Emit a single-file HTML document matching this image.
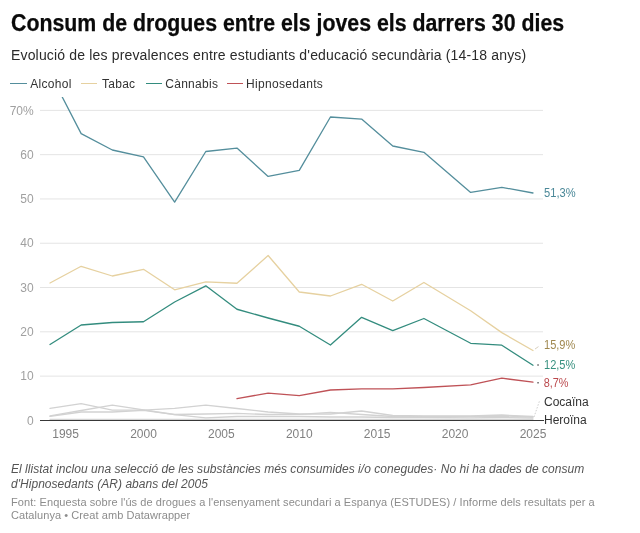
<!DOCTYPE html>
<html lang="ca"><head><meta charset="utf-8"><title>Consum de drogues entre els joves els darrers 30 dies</title>
<style>
html,body{margin:0;padding:0;background:#fff;}
body{width:640px;height:533px;position:relative;overflow:hidden;font-family:"Liberation Sans",Arial,sans-serif;}
.t{position:absolute;white-space:nowrap;left:11px;}
h1{margin:0;font-size:23px;font-weight:700;color:#0a0a0a;top:10.3px;-webkit-text-stroke:0.25px #0a0a0a;line-height:26px;left:11px;transform:scaleX(0.9265);transform-origin:0 0;}
.sub{font-size:14px;color:#2b2b2b;top:45.8px;line-height:18px;letter-spacing:0.165px;}
.legend{position:absolute;top:77px;left:0;font-size:12px;color:#333;white-space:nowrap;line-height:14px;}
.legend span{position:absolute;top:0;letter-spacing:0.3px;}
.legend i{position:absolute;top:6.2px;height:1.2px;}
.chart{position:absolute;left:0;top:0;}
.yl{font-size:12px;fill:#a0a0a0;text-anchor:end;font-family:"Liberation Sans",Arial,sans-serif;}
.xl{font-size:12px;fill:#808080;text-anchor:middle;font-family:"Liberation Sans",Arial,sans-serif;}
.el{font-size:12px;font-family:"Liberation Sans",Arial,sans-serif;}
.notes{font-size:12px;font-style:italic;color:#555;top:462px;letter-spacing:0.035px;line-height:14.5px;}
.foot{font-size:11px;color:#8c8c8c;top:495.9px;letter-spacing:0.07px;line-height:13.2px;}
</style></head><body>
<svg class="chart" width="640" height="533" viewBox="0 0 640 533">
<defs><clipPath id="clip"><rect x="0" y="97" width="640" height="330"/></clipPath></defs>
<line x1="40" x2="543" y1="110.37" y2="110.37" stroke="#e4e4e4" stroke-width="1"/>
<text x="33.7" y="114.6" class="yl">70%</text>
<line x1="40" x2="543" y1="154.66" y2="154.66" stroke="#e4e4e4" stroke-width="1"/>
<text x="33.7" y="158.9" class="yl">60</text>
<line x1="40" x2="543" y1="198.95" y2="198.95" stroke="#e4e4e4" stroke-width="1"/>
<text x="33.7" y="203.1" class="yl">50</text>
<line x1="40" x2="543" y1="243.24" y2="243.24" stroke="#e4e4e4" stroke-width="1"/>
<text x="33.7" y="247.4" class="yl">40</text>
<line x1="40" x2="543" y1="287.53" y2="287.53" stroke="#e4e4e4" stroke-width="1"/>
<text x="33.7" y="291.7" class="yl">30</text>
<line x1="40" x2="543" y1="331.82" y2="331.82" stroke="#e4e4e4" stroke-width="1"/>
<text x="33.7" y="336.0" class="yl">20</text>
<line x1="40" x2="543" y1="376.11" y2="376.11" stroke="#e4e4e4" stroke-width="1"/>
<text x="33.7" y="380.3" class="yl">10</text>
<text x="33.7" y="424.6" class="yl">0</text>
<g clip-path="url(#clip)" fill="none" stroke-linejoin="round" stroke-linecap="round">
<polyline points="50.00,419.30 81.16,419.30 112.32,419.30 143.48,419.30 174.64,419.30 205.80,419.30 236.96,419.30 268.12,419.30 299.28,419.30 330.44,419.30 361.60,419.30 392.76,419.30 423.92,419.30 470.66,419.30 501.82,419.30 532.98,419.30" stroke="#d2d2d2" stroke-width="1.3"/>
<polyline points="50.00,416.40 81.16,412.00 112.32,412.00 143.48,410.40 174.64,414.60 205.80,417.80 236.96,416.50 268.12,416.50 299.28,416.50 330.44,417.00 361.60,417.00 392.76,417.50 423.92,417.50 470.66,417.80 501.82,417.50 532.98,418.00" stroke="#d2d2d2" stroke-width="1.3"/>
<polyline points="50.00,415.80 81.16,410.50 112.32,405.10 143.48,409.80 174.64,414.50 205.80,414.00 236.96,413.40 268.12,414.50 299.28,414.30 330.44,412.30 361.60,414.50 392.76,416.50 423.92,416.50 470.66,416.50 501.82,416.00 532.98,417.00" stroke="#d2d2d2" stroke-width="1.3"/>
<polyline points="50.00,408.30 81.16,403.60 112.32,410.20 143.48,410.20 174.64,408.30 205.80,405.10 236.96,408.50 268.12,412.00 299.28,414.00 330.44,414.00 361.60,411.00 392.76,415.50 423.92,416.00 470.66,416.00 501.82,415.00 532.98,416.50" stroke="#d2d2d2" stroke-width="1.3"/>
<polyline points="236.96,398.70 268.12,393.10 299.28,395.60 330.44,390.00 361.60,388.80 392.76,388.90 423.92,387.50 470.66,384.80 501.82,378.20 532.98,382.20" stroke="#bf5257" stroke-width="1.3"/>
<polyline points="50.00,344.50 81.16,325.00 112.32,322.50 143.48,321.75 174.64,302.00 205.80,285.80 236.96,309.25 268.12,318.00 299.28,326.25 330.44,345.00 361.60,317.30 392.76,330.70 423.92,318.50 470.66,343.30 501.82,345.20 532.98,365.20" stroke="#338c7e" stroke-width="1.3"/>
<polyline points="50.00,283.00 81.16,266.30 112.32,276.00 143.48,269.30 174.64,289.80 205.80,281.90 236.96,283.25 268.12,255.50 299.28,292.00 330.44,296.00 361.60,284.30 392.76,301.00 423.92,282.50 470.66,310.70 501.82,332.60 532.98,350.50" stroke="#e6d1a0" stroke-width="1.3"/>
<polyline points="50.00,73.30 81.16,133.60 112.32,150.00 143.48,156.80 174.64,202.10 205.80,151.50 236.96,148.10 268.12,176.40 299.28,170.40 330.44,117.00 361.60,119.10 392.76,146.00 423.92,152.30 470.66,192.40 501.82,187.30 532.98,193.00" stroke="#548e9c" stroke-width="1.3"/>
</g>
<line x1="40" x2="544" y1="420.45" y2="420.45" stroke="#383838" stroke-width="1.1"/>
<text x="65.58" y="438" class="xl">1995</text>
<text x="143.48" y="438" class="xl">2000</text>
<text x="221.38" y="438" class="xl">2005</text>
<text x="299.28" y="438" class="xl">2010</text>
<text x="377.18" y="438" class="xl">2015</text>
<text x="455.08" y="438" class="xl">2020</text>
<text x="532.98" y="438" class="xl">2025</text>
<g fill="none">
<line x1="535" y1="349" x2="538.5" y2="346.6" stroke="#d8d0c0" stroke-width="1"/>
<line x1="537.3" y1="365" x2="538.8" y2="365" stroke="#666" stroke-width="1.4"/>
<line x1="537.3" y1="382.8" x2="538.8" y2="382.8" stroke="#666" stroke-width="1.4"/>
<line x1="534" y1="417" x2="539.5" y2="401" stroke="#cfcfcf" stroke-width="1" stroke-dasharray="1.5 1.5"/>
</g>
<text x="544" y="197.2" class="el" fill="#4a8898" textLength="31.6" lengthAdjust="spacingAndGlyphs">51,3%</text>
<text x="544" y="349" class="el" fill="#a08850" textLength="31.3" lengthAdjust="spacingAndGlyphs">15,9%</text>
<text x="544" y="368.6" class="el" fill="#36907f" textLength="31.3" lengthAdjust="spacingAndGlyphs">12,5%</text>
<text x="543.7" y="387.4" class="el" fill="#bb4a4e" textLength="24.8" lengthAdjust="spacingAndGlyphs">8,7%</text>
<text x="544" y="405.5" class="el" fill="#333">Cocaïna</text>
<text x="544" y="424" class="el" fill="#333">Heroïna</text>
</svg>
<h1 class="t">Consum de drogues entre els joves els darrers 30 dies</h1>
<div class="t sub">Evolució de les prevalences entre estudiants d'educació secundària (14-18 anys)</div>
<div class="legend"><i style="left:10.3px;width:16.3px;background:#548e9c"></i><span style="left:30.3px">Alcohol</span><i style="left:81.1px;width:16.3px;background:#e6d1a0"></i><span style="left:101.9px">Tabac</span><i style="left:145.5px;width:16.4px;background:#338c7e"></i><span style="left:165.2px">Cànnabis</span><i style="left:227.2px;width:16px;background:#bf5257"></i><span style="left:246.1px">Hipnosedants</span></div>
<div class="t notes">El llistat inclou una selecció de les substàncies més consumides i/o conegudes· No hi ha dades de consum<br>d'Hipnosedants (AR) abans del 2005</div>
<div class="t foot">Font: Enquesta sobre l'ús de drogues a l'ensenyament secundari a Espanya (ESTUDES) / Informe dels resultats per a<br>Catalunya • Creat amb Datawrapper</div>
</body></html>
